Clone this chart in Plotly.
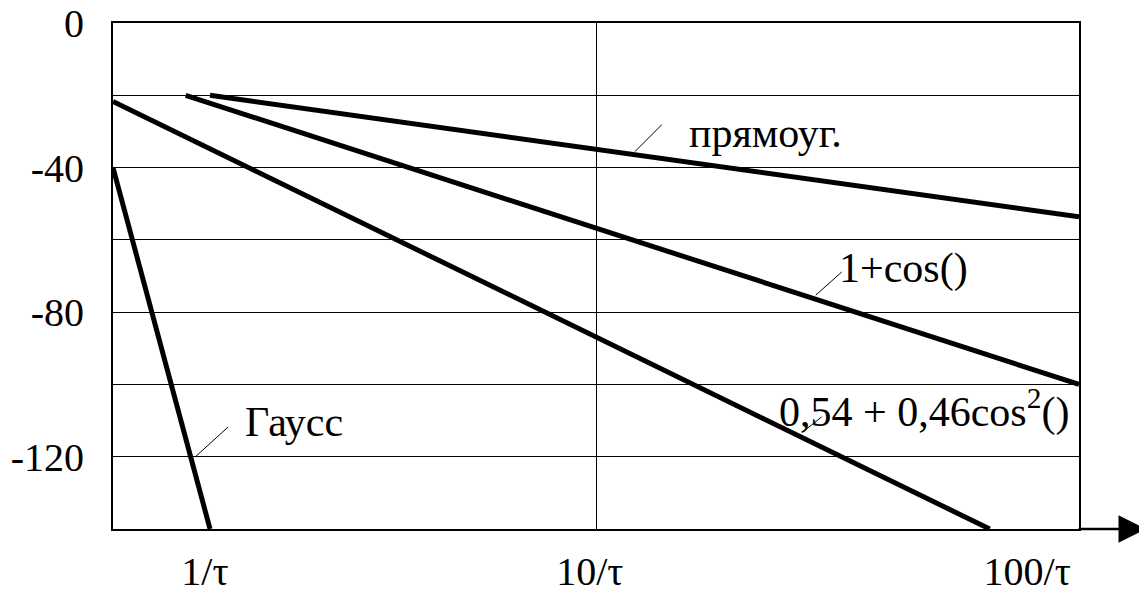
import plotly.graph_objects as go

# ---- data (x in units of 1/tau, log axis; y in dB) ----
x_gauss = [0.561, 1.0]
y_gauss = [-40, -140]
x_hamming = [0.561, 104.0]
y_hamming = [-21.7, -140]
x_hann = [0.865, 177.0]
y_hann = [-20, -100]
x_rect = [1.0, 177.0]
y_rect = [-20, -53.6]

y_tickvals = [0, -20, -40, -60, -80, -100, -120, -140]
y_ticktext = ["0", "", "-40", "", "-80", "", "-120", ""]
x_tickvals = [0.97, 9.6, 130]
x_ticktext = ["1/τ", "10/τ", "100/τ"]
x_gridvals = [10]

FONT = "Times New Roman, Liberation Serif, serif"
FS = 40
FS_LBL = 42

fig = go.Figure()
for xs, ys, name in [(x_gauss, y_gauss, "Гаусс"),
                     (x_hamming, y_hamming, "0,54+0,46cos²()"),
                     (x_hann, y_hann, "1+cos()"),
                     (x_rect, y_rect, "прямоуг.")]:
    fig.add_trace(go.Scatter(x=xs, y=ys, mode="lines", name=name,
                             line=dict(color="black", width=5),
                             showlegend=False, hoverinfo="skip"))

# invisible trace on the secondary x axis carrying the vertical grid line
fig.add_trace(go.Scatter(x=[1], y=[-140], xaxis="x2", mode="markers",
                         marker=dict(opacity=0), showlegend=False, hoverinfo="skip"))

xr = [-0.251, 2.248]
fig.update_layout(
    width=1139, height=584,
    margin=dict(l=105, r=68, t=15, b=63),
    paper_bgcolor="white", plot_bgcolor="white",
    font=dict(family=FONT, size=FS, color="black"),
    xaxis=dict(type="log", range=xr, tickvals=x_tickvals, ticktext=x_ticktext,
               showgrid=False, zeroline=False, showline=True, linecolor="black",
               linewidth=2, mirror=True, ticks="", ticklabelstandoff=6,
               ticklabeloverflow="allow", automargin=False,
               tickfont=dict(family=FONT, size=FS)),
    xaxis2=dict(type="log", range=xr, overlaying="x", tickvals=x_gridvals,
                showticklabels=False, showgrid=True, gridcolor="black", gridwidth=1.3,
                zeroline=False, showline=False, ticks="", automargin=False),
    yaxis=dict(range=[-140, 0], tickvals=y_tickvals, ticktext=y_ticktext,
               showgrid=True, gridcolor="black", gridwidth=1.3, zeroline=False,
               showline=True, linecolor="black", linewidth=2, mirror=True,
               ticks="", ticklabelstandoff=19, ticklabeloverflow="allow",
               automargin=False, tickfont=dict(family=FONT, size=FS)),
)

# axis arrow
fig.add_annotation(xref="paper", yref="paper", x=1.0704, y=0, ax=-70, ay=0,
                   text="", showarrow=True, arrowhead=2, arrowsize=2.2,
                   arrowwidth=2.5, arrowcolor="black")

# curve labels
labels = [
    (1.2335, -30.4, "прямоуг."),
    (1.621, -67.8, "1+cos()"),
    (1.466, -106.8, "0,54 + 0,46cos<sup>2</sup>()"),
    (0.0853, -110.4, "Гаусс"),
]
for lx, ly, t in labels:
    fig.add_annotation(x=lx, y=ly, xref="x", yref="y", text=t, showarrow=False,
                       xanchor="left", yanchor="middle",
                       font=dict(family=FONT, size=FS_LBL, color="black"))

# leader lines (x as log10 of the value, y in dB)
leaders = [
    (1.099, -35.6, 1.169, -28.1),
    (1.567, -75.3, 1.634, -68.9),
    (1.533, -113.2, 1.582, -109.0),
    (-0.0388, -120.1, 0.0466, -111.8),
]
for x0, y0, x1, y1 in leaders:
    fig.add_shape(type="line", xref="x", yref="y", x0=10 ** x0, y0=y0,
                  x1=10 ** x1, y1=y1, line=dict(color="black", width=1))

fig.write_html("out.html")
